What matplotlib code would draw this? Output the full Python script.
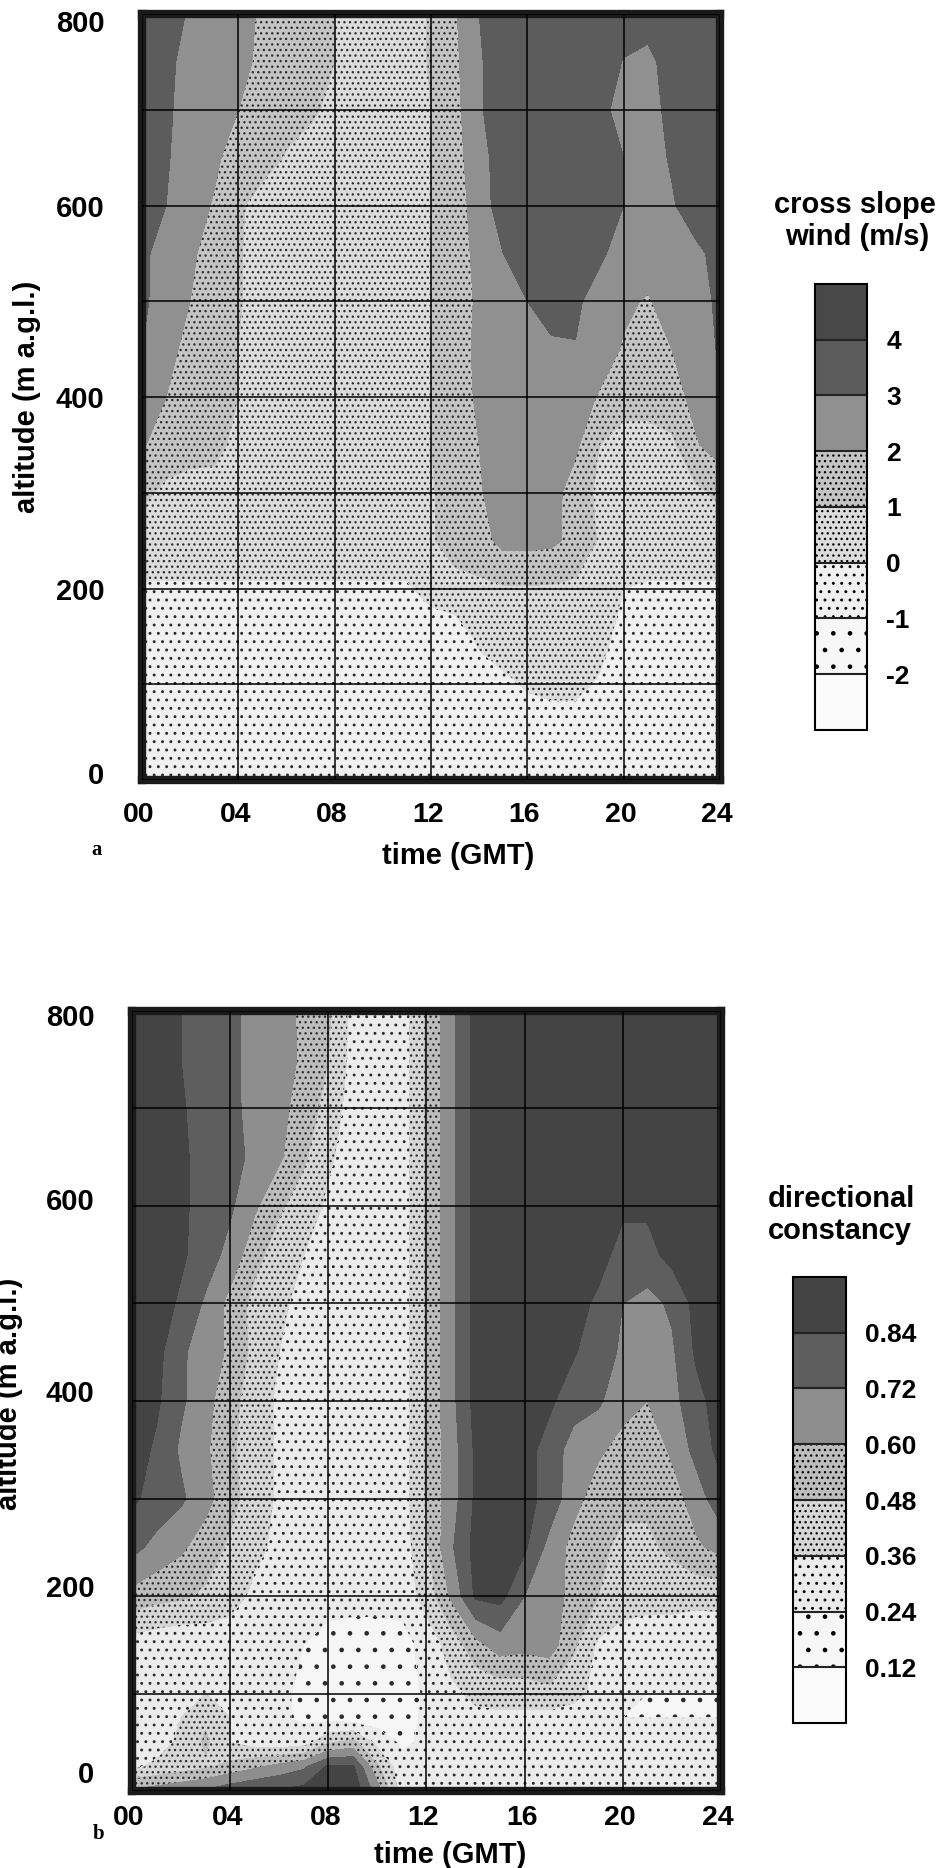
import matplotlib
matplotlib.use("Agg")
import numpy as np
import matplotlib.pyplot as plt
from matplotlib.transforms import ScaledTranslation

plt.rcParams['font.family'] = ['Liberation Sans', 'DejaVu Sans']
plt.rcParams['font.weight'] = 'bold'
plt.rcParams['hatch.color'] = '#2a2a2a'
plt.rcParams['hatch.linewidth'] = 0.9

## grid of the two sodar panels (time in GMT hours, altitude in m)
hours = [0, 1, 2, 3, 4, 5, 6, 7, 8, 9, 10, 11, 12, 13, 14, 15, 16, 17, 18, 19, 20, 21, 22, 23, 24]
alt_a = [800, 750, 700, 650, 600, 550, 500, 450, 400, 350, 300, 250, 200, 150, 100, 50, 0]
alt_b = [800, 750, 700, 650, 600, 550, 500, 450, 400, 350, 300, 250, 200, 150, 100, 75, 50, 25, 0]

## panel a: cross slope wind (m/s), rows from top (800 m) to ground
wind = [
    [3.5, 3.4, 2.9, 2.5, 2.5, 1.8, 1.5, 1.5, 1.0, 0.5, 0.5, 0.5, 1.1, 1.9, 3.0, 3.5, 3.5, 3.5, 3.5, 3.5, 3.5, 3.5, 3.5, 3.5, 3.5],
    [3.5, 3.2, 2.7, 2.5, 2.4, 1.7, 1.5, 1.5, 1.0, 0.5, 0.5, 0.5, 1.1, 1.8, 2.9, 3.5, 3.5, 3.5, 3.5, 3.5, 2.95, 2.7, 3.5, 3.5, 3.5],
    [3.5, 3.2, 2.5, 2.5, 2.0, 1.5, 1.5, 1.2, 0.7, 0.5, 0.5, 0.5, 1.0, 1.7, 2.9, 3.5, 3.5, 3.5, 3.5, 3.3, 2.6, 2.6, 3.3, 3.5, 3.5],
    [3.5, 3.1, 2.5, 2.2, 1.5, 1.5, 0.9, 0.5, 0.5, 0.5, 0.5, 0.5, 1.0, 1.6, 2.7, 3.4, 3.5, 3.5, 3.5, 3.5, 3.0, 2.6, 3.1, 3.5, 3.5],
    [3.5, 3.0, 2.5, 1.9, 1.2, 0.5, 0.5, 0.5, 0.5, 0.5, 0.5, 0.5, 1.0, 1.5, 2.5, 3.5, 3.5, 3.5, 3.5, 3.5, 3.0, 2.5, 2.9, 3.5, 3.5],
    [3.2, 2.6, 2.2, 1.5, 1.1, 0.5, 0.5, 0.5, 0.5, 0.5, 0.5, 0.5, 1.0, 1.5, 2.3, 3.0, 3.5, 3.5, 3.5, 3.2, 2.5, 2.5, 2.5, 2.8, 3.3],
    [3.2, 2.5, 2.0, 1.5, 1.1, 0.5, 0.5, 0.5, 0.5, 0.5, 0.5, 0.5, 1.0, 1.4, 2.2, 2.6, 3.0, 3.5, 3.2, 2.5, 2.2, 1.9, 2.5, 2.6, 3.2],
    [3.0, 2.2, 1.8, 1.5, 1.0, 0.5, 0.5, 0.5, 0.5, 0.5, 0.5, 0.5, 1.0, 1.4, 2.3, 2.5, 2.7, 2.8, 2.95, 2.5, 1.9, 1.5, 2.0, 2.5, 3.1],
    [2.5, 2.0, 1.5, 1.5, 1.0, 0.5, 0.5, 0.5, 0.5, 0.5, 0.5, 0.5, 1.0, 1.4, 2.2, 2.5, 2.5, 2.5, 2.5, 1.9, 1.5, 1.5, 1.6, 2.3, 3.0],
    [2.1, 1.5, 1.5, 1.4, 0.6, 0.5, 0.5, 0.5, 0.5, 0.5, 0.5, 0.5, 1.0, 1.5, 2.0, 2.5, 2.5, 2.5, 2.2, 1.0, 0.5, 0.5, 0.8, 1.9, 2.5],
    [1.2, 0.8, 0.5, 0.5, 0.5, 0.5, 0.5, 0.5, 0.5, 0.5, 0.5, 0.5, 0.9, 1.5, 1.9, 2.5, 2.5, 2.4, 1.5, 0.8, 0.5, 0.5, 0.5, 0.8, 1.2],
    [0.5, 0.5, 0.5, 0.5, 0.5, 0.5, 0.5, 0.5, 0.5, 0.5, 0.5, 0.5, 0.9, 1.5, 1.6, 2.3, 2.3, 2.2, 1.7, 0.9, 0.5, 0.5, 0.5, 0.5, 0.5],
    [-0.1, -0.1, -0.1, -0.1, -0.1, -0.1, -0.1, -0.1, -0.1, -0.1, -0.1, -0.1, 0.3, 0.6, 0.8, 0.9, 0.9, 0.9, 0.8, 0.5, 0.0, -0.1, -0.1, -0.1, -0.1],
    [-0.5, -0.5, -0.5, -0.5, -0.5, -0.5, -0.5, -0.5, -0.5, -0.5, -0.5, -0.5, -0.5, -0.5, 0.2, 0.5, 0.6, 0.6, 0.6, 0.3, -0.3, -0.5, -0.5, -0.5, -0.5],
    [-0.5, -0.5, -0.5, -0.5, -0.5, -0.5, -0.5, -0.5, -0.5, -0.5, -0.5, -0.5, -0.5, -0.5, -0.5, -0.2, 0.1, 0.2, 0.2, -0.1, -0.5, -0.5, -0.5, -0.5, -0.5],
    [-0.5, -0.5, -0.5, -0.5, -0.5, -0.5, -0.5, -0.5, -0.5, -0.5, -0.5, -0.5, -0.5, -0.5, -0.5, -0.5, -0.5, -0.4, -0.4, -0.5, -0.5, -0.5, -0.5, -0.5, -0.5],
    [-0.5, -0.5, -0.5, -0.5, -0.5, -0.5, -0.5, -0.5, -0.5, -0.5, -0.5, -0.5, -0.5, -0.5, -0.5, -0.5, -0.5, -0.5, -0.5, -0.5, -0.5, -0.5, -0.5, -0.5, -0.5],
]

## panel b: directional constancy, rows from top (800 m) to ground
const = [
    [0.90, 0.90, 0.84, 0.78, 0.75, 0.68, 0.64, 0.58, 0.50, 0.32, 0.30, 0.30, 0.50, 0.68, 0.88, 0.90, 0.90, 0.90, 0.90, 0.90, 0.90, 0.90, 0.90, 0.90, 0.90],
    [0.90, 0.90, 0.84, 0.78, 0.75, 0.68, 0.65, 0.58, 0.48, 0.32, 0.30, 0.30, 0.50, 0.68, 0.88, 0.90, 0.90, 0.90, 0.90, 0.90, 0.90, 0.90, 0.90, 0.90, 0.90],
    [0.90, 0.90, 0.85, 0.80, 0.76, 0.67, 0.64, 0.54, 0.44, 0.30, 0.30, 0.30, 0.50, 0.68, 0.88, 0.90, 0.90, 0.90, 0.90, 0.90, 0.90, 0.90, 0.90, 0.90, 0.90],
    [0.90, 0.90, 0.86, 0.80, 0.78, 0.68, 0.62, 0.50, 0.38, 0.30, 0.30, 0.30, 0.50, 0.68, 0.88, 0.90, 0.90, 0.90, 0.90, 0.90, 0.90, 0.90, 0.90, 0.90, 0.90],
    [0.90, 0.90, 0.86, 0.80, 0.74, 0.62, 0.50, 0.42, 0.34, 0.30, 0.30, 0.30, 0.50, 0.68, 0.88, 0.90, 0.90, 0.90, 0.90, 0.90, 0.86, 0.86, 0.90, 0.90, 0.90],
    [0.90, 0.90, 0.86, 0.78, 0.68, 0.52, 0.42, 0.36, 0.32, 0.30, 0.30, 0.30, 0.50, 0.68, 0.88, 0.90, 0.90, 0.90, 0.90, 0.88, 0.80, 0.80, 0.88, 0.90, 0.90],
    [0.90, 0.90, 0.82, 0.70, 0.56, 0.44, 0.38, 0.33, 0.30, 0.30, 0.30, 0.30, 0.50, 0.68, 0.88, 0.90, 0.90, 0.90, 0.88, 0.82, 0.72, 0.68, 0.74, 0.88, 0.90],
    [0.90, 0.88, 0.74, 0.66, 0.58, 0.44, 0.36, 0.32, 0.30, 0.30, 0.30, 0.30, 0.50, 0.68, 0.88, 0.90, 0.90, 0.90, 0.85, 0.78, 0.70, 0.66, 0.70, 0.86, 0.90],
    [0.90, 0.86, 0.74, 0.64, 0.52, 0.42, 0.34, 0.30, 0.30, 0.30, 0.30, 0.30, 0.50, 0.68, 0.88, 0.90, 0.90, 0.86, 0.78, 0.74, 0.64, 0.60, 0.68, 0.80, 0.90],
    [0.90, 0.82, 0.70, 0.62, 0.50, 0.42, 0.34, 0.30, 0.30, 0.30, 0.30, 0.30, 0.50, 0.66, 0.86, 0.90, 0.88, 0.80, 0.66, 0.62, 0.56, 0.52, 0.62, 0.76, 0.88],
    [0.86, 0.80, 0.74, 0.64, 0.52, 0.42, 0.34, 0.30, 0.30, 0.30, 0.30, 0.30, 0.50, 0.66, 0.86, 0.90, 0.88, 0.80, 0.64, 0.54, 0.50, 0.50, 0.54, 0.66, 0.80],
    [0.76, 0.68, 0.62, 0.54, 0.46, 0.38, 0.34, 0.30, 0.30, 0.30, 0.30, 0.30, 0.46, 0.70, 0.88, 0.90, 0.86, 0.68, 0.56, 0.50, 0.46, 0.46, 0.50, 0.58, 0.64],
    [0.56, 0.52, 0.50, 0.46, 0.40, 0.34, 0.30, 0.30, 0.30, 0.30, 0.30, 0.30, 0.40, 0.62, 0.86, 0.88, 0.72, 0.66, 0.56, 0.48, 0.44, 0.42, 0.42, 0.40, 0.40],
    [0.30, 0.28, 0.26, 0.28, 0.30, 0.30, 0.28, 0.24, 0.18, 0.16, 0.16, 0.18, 0.30, 0.40, 0.56, 0.66, 0.64, 0.66, 0.50, 0.34, 0.28, 0.26, 0.26, 0.26, 0.28],
    [0.28, 0.26, 0.30, 0.36, 0.32, 0.28, 0.26, 0.22, 0.18, 0.16, 0.16, 0.18, 0.26, 0.34, 0.38, 0.40, 0.40, 0.44, 0.40, 0.32, 0.26, 0.24, 0.24, 0.24, 0.24],
    [0.28, 0.28, 0.36, 0.46, 0.36, 0.30, 0.26, 0.22, 0.20, 0.18, 0.18, 0.20, 0.26, 0.32, 0.34, 0.34, 0.34, 0.32, 0.30, 0.26, 0.24, 0.24, 0.24, 0.24, 0.24],
    [0.30, 0.32, 0.38, 0.50, 0.36, 0.30, 0.28, 0.30, 0.46, 0.52, 0.32, 0.22, 0.26, 0.30, 0.32, 0.32, 0.30, 0.28, 0.26, 0.25, 0.25, 0.25, 0.25, 0.25, 0.25],
    [0.34, 0.38, 0.42, 0.46, 0.52, 0.58, 0.64, 0.70, 0.86, 0.86, 0.50, 0.28, 0.30, 0.30, 0.30, 0.30, 0.28, 0.27, 0.27, 0.26, 0.26, 0.25, 0.25, 0.25, 0.25],
    [0.62, 0.66, 0.70, 0.74, 0.80, 0.84, 0.86, 0.88, 0.93, 0.93, 0.66, 0.30, 0.30, 0.30, 0.30, 0.30, 0.28, 0.27, 0.27, 0.26, 0.26, 0.25, 0.25, 0.25, 0.25],
]

levels_a = [-3, -2, -1, 0, 1, 2, 3, 4, 5]
ticks_a = [-2, -1, 0, 1, 2, 3, 4]
levels_b = [0.0, 0.12, 0.24, 0.36, 0.48, 0.60, 0.72, 0.84, 0.96]
ticks_b = [0.12, 0.24, 0.36, 0.48, 0.60, 0.72, 0.84]

grays_a = ['#fbfbfb', '#f7f7f7', '#f0f0f0', '#dcdcdc', '#c4c4c4', '#909090', '#5c5c5c', '#484848']
grays_b = ['#fbfbfb', '#f6f6f6', '#ebebeb', '#d6d6d6', '#bdbdbd', '#8e8e8e', '#5e5e5e', '#444444']
dots = [None, '.', '..', '...', '...', None, None, None]

time_labels = ['00', '04', '08', '12', '16', '20', '24']
time_ticks = [0, 4, 8, 12, 16, 20, 24]
alt_ticks = [0, 200, 400, 600, 800]
alt_grid = [100, 300, 500, 700]

fig = plt.figure(figsize=(9.38, 18.68), dpi=100)


def panel(rect, z, alts, levels, grays, label_shift, xpad):
    ax = fig.add_axes(rect)
    ax.contourf(hours, alts, np.array(z), levels=levels, colors=grays, hatches=dots)
    ax.set_xlim(0, 24)
    ax.set_ylim(0, 800)
    ax.set_xticks(time_ticks)
    ax.set_xticklabels(time_labels)
    ax.set_yticks(alt_ticks)
    ax.set_yticklabels([str(v) for v in alt_ticks])
    ax.set_yticks(alt_grid, minor=True)
    ax.set_axisbelow(False)
    ax.grid(True, which='major', axis='x', color='black', lw=1.1)
    ax.grid(True, which='both', axis='y', color='black', lw=1.1)
    ax.tick_params(which='both', length=0)
    ax.tick_params(axis='y', pad=27, labelsize=21)
    ax.tick_params(axis='x', pad=xpad, labelsize=20.5)
    for s in ax.spines.values():
        s.set_linewidth(6)
        s.set_color('#1a1a1a')
    for lab, dy in zip(ax.get_yticklabels(), label_shift):
        lab.set_transform(lab.get_transform() + ScaledTranslation(0, dy / 100.0, fig.dpi_scale_trans))
    for lab in ax.get_xticklabels():
        lab.set_transform(lab.get_transform() + ScaledTranslation(-0.03, 0, fig.dpi_scale_trans))
    return ax


def legend_bar(rect, cs, ticks, ticklabels):
    cax = fig.add_axes(rect)
    cb = fig.colorbar(cs, cax=cax, ticks=ticks, drawedges=True)
    cb.set_ticklabels(ticklabels)
    cb.outline.set_linewidth(1.5)
    cb.dividers.set_linewidth(1.5)
    cb.dividers.set_color('#222222')
    cax.tick_params(length=0, pad=14, labelsize=19)
    return cb


## panel a
ax1 = panel([0.1514, 0.5824, 0.6162, 0.4101], wind, alt_a, levels_a, grays_a,
            [7, 0, 0, 0, -7], 16)
legend_bar([0.8689, 0.6092, 0.0554, 0.2388], ax1.collections[0], ticks_a,
           [str(t) for t in ticks_a])
fig.text(458 / 938, 1 - 856 / 1868, 'time (GMT)', ha='center', va='center', fontsize=21)
fig.text(27 / 938, 1 - 397 / 1868, 'altitude (m a.g.l.)', ha='center', va='center',
         rotation=90, fontsize=21)
fig.text(855 / 938, 1 - 205 / 1868, 'cross slope', ha='center', va='center', fontsize=21)
fig.text(857 / 938, 1 - 237 / 1868, 'wind (m/s)', ha='center', va='center', fontsize=21)
fig.text(97 / 938, 1 - 850 / 1868, 'a', ha='center', va='center', fontsize=15,
         family='Liberation Serif', weight='bold')

## panel b
ax2 = panel([0.1407, 0.0412, 0.6279, 0.4176], const, alt_b, levels_b, grays_b,
            [19, 10, 10, 7, -4], 10)
legend_bar([0.8454, 0.0776, 0.0565, 0.2388], ax2.collections[0], ticks_b,
           ['%.2f' % t for t in ticks_b])
fig.text(450 / 938, 1 - 1855 / 1868, 'time (GMT)', ha='center', va='center', fontsize=21)
fig.text(9 / 938, 1 - 1394 / 1868, 'altitude (m a.g.l.)', ha='center', va='center',
         rotation=90, fontsize=21)
fig.text(841 / 938, 1 - 1199 / 1868, 'directional', ha='center', va='center', fontsize=21)
fig.text(840 / 938, 1 - 1231 / 1868, 'constancy', ha='center', va='center', fontsize=21)
fig.text(99 / 938, 1 - 1834 / 1868, 'b', ha='center', va='center', fontsize=15,
         family='Liberation Serif', weight='bold')

plt.savefig('out.png', dpi=100)
